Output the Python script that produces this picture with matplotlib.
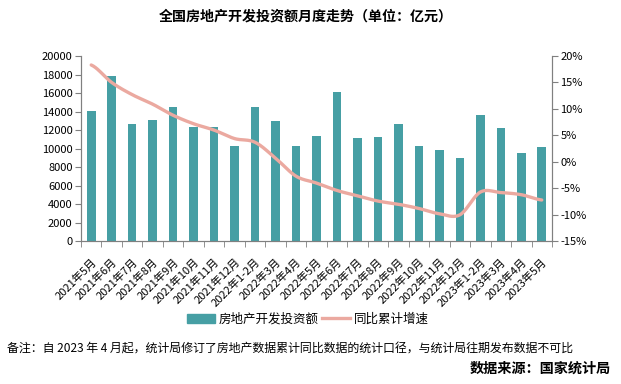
import numpy as np
import matplotlib.pyplot as plt
from matplotlib.patches import Patch
from matplotlib.lines import Line2D

plt.rcParams['font.family'] = ['Noto Sans CJK SC', 'DejaVu Sans']

months = ["2021年5月", "2021年6月", "2021年7月", "2021年8月", "2021年9月", "2021年10月",
          "2021年11月", "2021年12月", "2022年1-2月", "2022年3月", "2022年4月", "2022年5月",
          "2022年6月", "2022年7月", "2022年8月", "2022年9月", "2022年10月", "2022年11月",
          "2022年12月", "2023年1-2月", "2023年3月", "2023年4月", "2023年5月"]
invest = [14100, 17840, 12660, 13100, 14500, 12340, 12300, 10290, 14500, 13000, 10290, 11370,
          16120, 11150, 11260, 12660, 10290, 9860, 8990, 13630, 12230, 9530, 10180]
growth = [18.3, 15.0, 12.7, 10.9, 8.8, 7.2, 6.0, 4.4, 3.7, 0.7, -2.7, -4.0,
          -5.4, -6.4, -7.4, -8.0, -8.8, -9.8, -10.0, -5.7, -5.8, -6.2, -7.2]

bar_color = "#469fa4"
line_color = "#eba9a0"
spine_color = "#808080"


def smooth(y, n=20):
    # catmull-rom curve through the points, just for drawing
    p = np.concatenate([[y[0]], y, [y[-1]]])
    xs, ys = [], []
    for i in range(1, len(p) - 2):
        t = np.linspace(0, 1, n, endpoint=False)
        p0, p1, p2, p3 = p[i - 1], p[i], p[i + 1], p[i + 2]
        yy = 0.5 * ((2 * p1) + (-p0 + p2) * t + (2 * p0 - 5 * p1 + 4 * p2 - p3) * t ** 2
                    + (-p0 + 3 * p1 - 3 * p2 + p3) * t ** 3)
        xs.append(i - 1 + t)
        ys.append(yy)
    xs.append([len(y) - 1])
    ys.append([y[-1]])
    return np.concatenate(xs), np.concatenate(ys)


fig = plt.figure(figsize=(6.21, 3.84), dpi=100)
ax = fig.add_axes([0.1304, 0.3716, 0.7585, 0.4826])
x = np.arange(len(months))
ax.bar(x, invest, width=0.42, color=bar_color, zorder=2)
ax.set_xlim(-0.5, len(months) - 0.5)
ax.set_ylim(0, 20000)
ax.set_yticks(range(0, 20001, 2000))
ax.tick_params(axis='y', labelsize=8, length=4, color=spine_color, pad=2)

ax.set_xticks(x)
ax.set_xticklabels(months, rotation=45, ha='right', rotation_mode='anchor', fontsize=8)
ax.set_xticks(np.arange(-0.5, len(months), 1), minor=True)
ax.tick_params(axis='x', which='major', length=0, pad=11)
ax.tick_params(axis='x', which='minor', length=4, color=spine_color)

ax.spines['top'].set_visible(False)
for s in ['left', 'bottom', 'right']:
    ax.spines[s].set_color(spine_color)

ax2 = ax.twinx()
sx, sy = smooth(np.array(growth))
ax2.plot(sx, sy, color=line_color, lw=2.4, solid_capstyle='round', zorder=3)
ax2.set_ylim(-15, 20)
ax2.set_yticks(range(-15, 21, 5))
ax2.set_yticklabels([f"{v}%" for v in range(-15, 21, 5)])
ax2.tick_params(axis='y', labelsize=8, length=4, color=spine_color, pad=2)
ax2.spines['top'].set_visible(False)
for s in ['left', 'bottom', 'right']:
    ax2.spines[s].set_color(spine_color)

fig.text(0.493, 0.957, "全国房地产开发投资额月度走势（单位：亿元）", ha='center', va='center',
         fontsize=10.1, fontweight='bold')

handles = [Patch(color=bar_color), Line2D([0], [0], color=line_color, lw=2.4)]
fig.legend(handles, ["房地产开发投资额", "同比累计增速"], loc='center', bbox_to_anchor=(0.496, 0.169),
           ncol=2, frameon=False, fontsize=9, handlelength=2.2, handletextpad=0.3,
           columnspacing=0.3)

fig.text(0.011, 0.091, "备注：自 2023 年 4 月起，统计局修订了房地产数据累计同比数据的统计口径，与统计局往期发布数据不可比",
         ha='left', va='center', fontsize=8.6)
fig.text(0.984, 0.039, "数据来源：国家统计局", ha='right', va='center', fontsize=10.2, fontweight='bold')

fig.savefig("out.png", dpi=100)
